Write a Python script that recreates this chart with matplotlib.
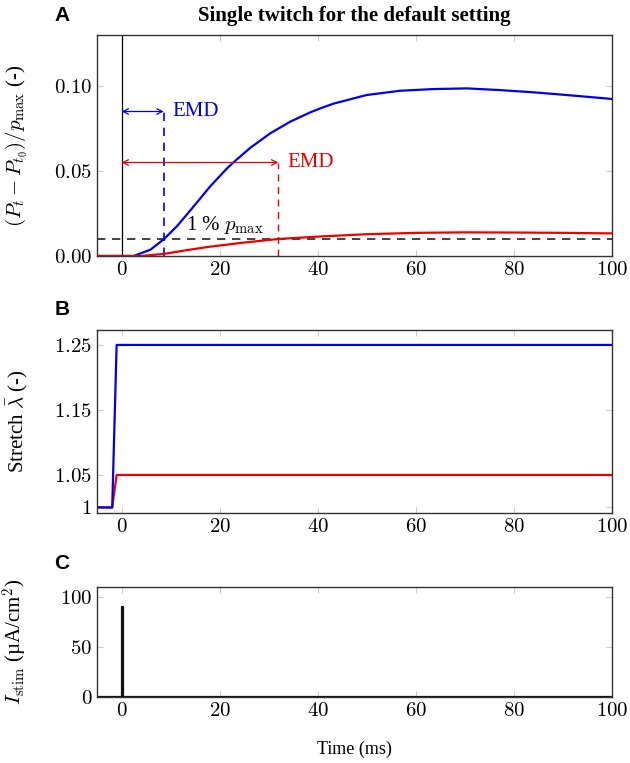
import numpy as np
from matplotlib import pyplot as plt

plt.rcParams['font.family'] = ['Liberation Serif', 'DejaVu Serif']
plt.rcParams['mathtext.fontset'] = 'cm'

# panel A: normalised pressure rise
t_blue = [-5, 0, 2.5, 3.2, 5.9, 8.6, 11.3, 14.7, 18.1, 21.5, 23.2, 26.3, 30.3, 34.4, 38.5, 40.5, 43.2,
          50, 56.8, 63.6, 70.4, 77.2, 84, 90.8, 100]
p_blue = [0, 0, 0, 0.0008, 0.0037, 0.0098, 0.0175, 0.0291, 0.0410, 0.0515, 0.0560, 0.0637, 0.0721, 0.0790,
          0.0845, 0.0868, 0.0896, 0.0947, 0.0972, 0.0982, 0.0986, 0.0976, 0.0963, 0.0947, 0.0924]
t_red = [-5, 0, 4, 8.6, 13, 18.1, 25, 32, 40, 50, 60, 70, 80, 90, 100]
p_red = [0, 0, 0, 0.0012, 0.0033, 0.0055, 0.0079, 0.0100, 0.0114, 0.0128, 0.0136, 0.0139, 0.0138,
         0.0136, 0.0133]
emd_blue = 8.6
emd_red = 32
threshold = 0.01

# panel B: stretch
t_stretch = [-5, -1.9, -1, 100]
lam_blue = [1, 1, 1.25, 1.25]
lam_red = [1, 1, 1.05, 1.05]

# panel C: stimulus current
t_stim = [-5, 0, 0, 0.4, 0.4, 100]
i_stim = [0, 0, 90, 90, 0, 0]

xticks = [0, 20, 40, 60, 80, 100]
blue = '#0000ee'
red = '#ee0000'


def style(ax, yticks, ylabels):
    ax.set_xlim(-5, 100)
    ax.set_xticks(xticks)
    ax.set_xticklabels(['$%d$' % v for v in xticks], fontsize=15)
    ax.set_yticks(yticks)
    ax.set_yticklabels(ylabels, fontsize=15)
    ax.tick_params(direction='in', color='#cccccc', length=4, top=True, right=True)
    for s in ax.spines.values():
        s.set_color('#333333')
        s.set_linewidth(1.0)


fig = plt.figure(figsize=(6.3, 7.63), dpi=100)
axA = fig.add_axes([0.154, 0.6645, 0.817, 0.2896])
axB = fig.add_axes([0.154, 0.3277, 0.817, 0.2398])
axC = fig.add_axes([0.154, 0.0865, 0.817, 0.1442])

# A
axA.plot(t_blue, p_blue, color=blue, lw=1.6, zorder=3)
axA.plot(t_red, p_red, color=red, lw=1.6, zorder=3)
axA.axvline(0, color='black', lw=0.9)
axA.axhline(threshold, color='#222222', lw=1.2, ls=(0, (5, 4)))
axA.plot([emd_blue, emd_blue], [0, 0.085], color=blue, lw=1.2, ls=(0, (5, 4)))
axA.plot([emd_red, emd_red], [0, 0.055], color=red, lw=1.0, ls=(0, (5, 4)))
axA.annotate('', xy=(emd_blue, 0.085), xytext=(0, 0.085),
             arrowprops=dict(arrowstyle='<->', color=blue, lw=0.9, shrinkA=0, shrinkB=0))
axA.annotate('', xy=(emd_red, 0.055), xytext=(0, 0.055),
             arrowprops=dict(arrowstyle='<->', color=red, lw=0.9, shrinkA=0, shrinkB=0))
axA.text(emd_blue + 1.8, 0.085, 'EMD', color=blue, fontsize=15, va='center')
axA.text(emd_red + 1.8, 0.055, 'EMD', color=red, fontsize=15, va='center')
axA.text(21, 0.0115, r'1 % $p_{\mathrm{max}}$', fontsize=15, ha='center', va='bottom')
axA.set_ylim(0, 0.13)
style(axA, [0, 0.05, 0.10], ['$0.00$', '$0.05$', '$0.10$'])
axA.set_ylabel(r'$(P_t - P_{t_0})/p_{\mathrm{max}}$ (-)', fontsize=15)
axA.set_title('Single twitch for the default setting', fontsize=15, fontweight='bold', pad=10)

# B
axB.plot(t_stretch, lam_red, color=red, lw=1.6)
axB.plot(t_stretch, lam_blue, color=blue, lw=1.6)
axB.set_ylim(0.9915, 1.273)
style(axB, [1, 1.05, 1.15, 1.25], ['$1$', '$1.05$', '$1.15$', '$1.25$'])
axB.set_ylabel(r'Stretch $\bar{\lambda}$ (-)', fontsize=15)

# C
axC.plot(t_stim, i_stim, color='#111111', lw=1.6)
axC.set_ylim(0, 110)
style(axC, [0, 50, 100], ['$0$', '$50$', '$100$'])
axC.set_ylabel(r'$I_{\mathrm{stim}}$ (µA/cm$^2$)', fontsize=15)
axC.set_xlabel('Time (ms)', fontsize=13, labelpad=14)

for ax in (axA, axB, axC):
    ax.yaxis.set_label_coords(-0.13, 0.5)

for lab, y in (('A', 0.98), ('B', 0.595), ('C', 0.262)):
    fig.text(0.098, y, lab, fontsize=15, fontweight='bold', family='Liberation Sans', ha='center', va='center')

fig.savefig('out.png', dpi=100)
